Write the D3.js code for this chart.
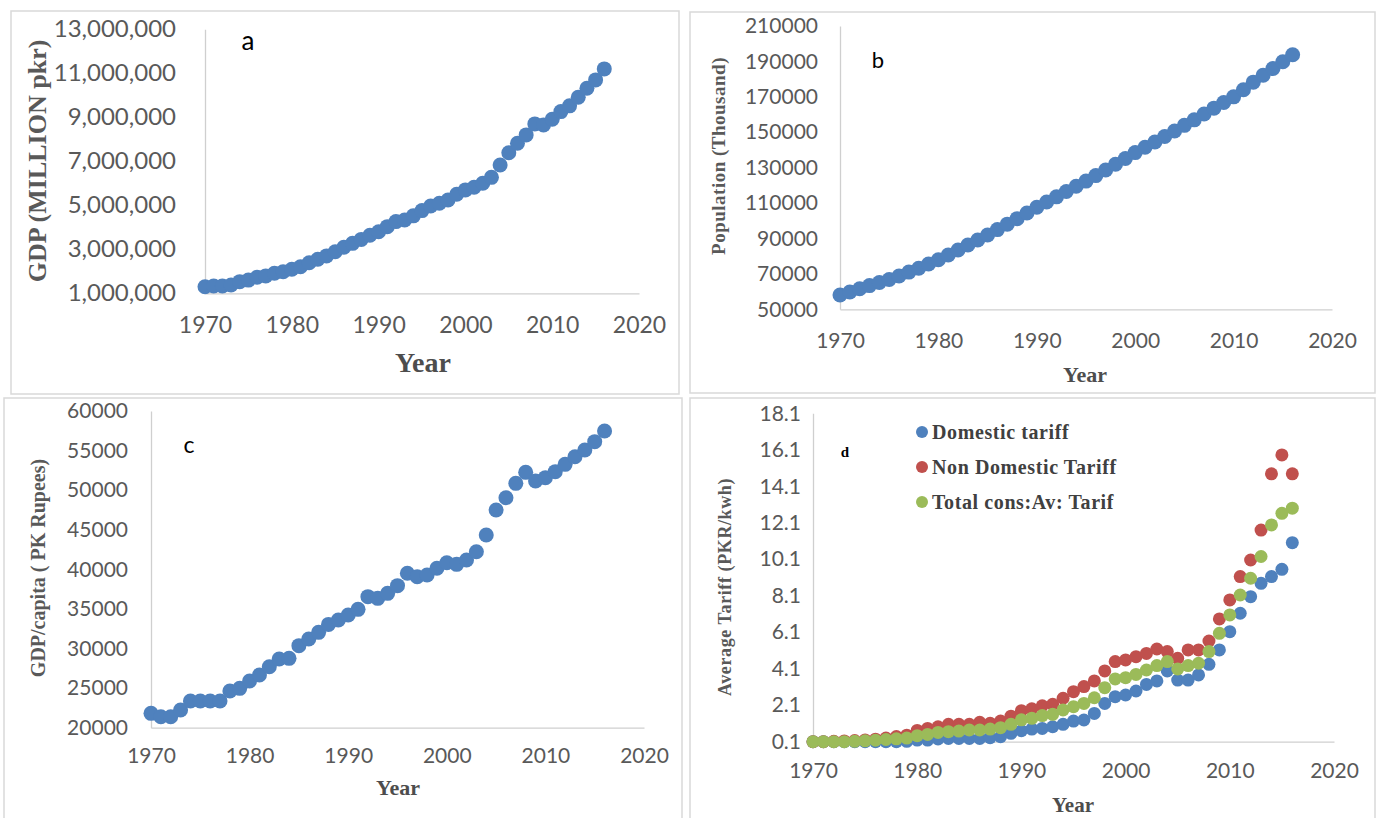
<!DOCTYPE html>
<html>
<head>
<meta charset="utf-8">
<script src="https://cdn.jsdelivr.net/npm/d3@7"></script>
<style>
  body { margin: 0; background: #fff; }
  svg { display: block; }
</style>
</head>
<body>
<div id="chart"></div>
<script>
// data (1970-2016)
const years = [1970,1971,1972,1973,1974,1975,1976,1977,1978,1979,1980,1981,1982,1983,1984,1985,1986,1987,1988,1989,1990,1991,1992,1993,1994,1995,1996,1997,1998,1999,2000,2001,2002,2003,2004,2005,2006,2007,2008,2009,2010,2011,2012,2013,2014,2015,2016];

const gdp = [1300000,1330000,1330000,1380000,1530000,1600000,1730000,1790000,1910000,1980000,
  2090000,2210000,2390000,2550000,2700000,2890000,3090000,3270000,3450000,3640000,
  3800000,4030000,4260000,4330000,4520000,4760000,4970000,5090000,5240000,5500000,
  5700000,5820000,6000000,6270000,6830000,7390000,7820000,8200000,8700000,8650000,
  8910000,9260000,9520000,9910000,10320000,10700000,11200000];

const population = [58100,59800,61600,63400,65100,66800,68800,71000,73200,75600,
  78000,80700,83500,86300,89100,92000,95000,98100,101200,104400,
  107600,110600,113500,116500,119500,122400,125500,128700,131900,135200,
  138500,141500,144500,147600,150700,153900,157000,160300,163600,166800,
  170000,174000,178300,182200,186000,189800,193800];

const gdpPerCapita = [21810,21390,21390,22230,23370,23370,23370,23370,24630,24970,
  25900,26650,27700,28670,28760,30360,31200,32040,33050,33600,
  34230,34950,36550,36340,36970,37940,39500,39070,39290,40130,
  40840,40630,41180,42230,44340,47500,49050,50860,52250,51160,
  51580,52340,53260,54230,55070,56130,57470];

const domesticTariff = [0.1,0.1,0.1,0.1,0.1,0.1,0.1,0.1,0.1,0.12,
  0.19,0.19,0.25,0.28,0.28,0.28,0.28,0.32,0.37,0.56,
  0.7,0.79,0.83,0.92,1.05,1.23,1.29,1.65,2.2,2.57,
  2.66,2.88,3.24,3.43,3.98,3.48,3.48,3.76,4.34,5.13,
  6.13,7.14,8.05,8.78,9.15,9.55,11.01];

const nonDomesticTariff = [0.1,0.1,0.12,0.14,0.16,0.2,0.24,0.3,0.38,0.46,
  0.72,0.83,0.92,1.05,1.05,1.05,1.16,1.11,1.23,1.5,
  1.8,1.9,2.07,2.15,2.48,2.84,3.12,3.43,3.98,4.49,
  4.58,4.76,4.94,5.18,5.04,4.67,5.13,5.13,5.62,6.83,
  7.87,9.15,10.06,11.7,14.78,15.82,14.78];

const totalTariff = [0.1,0.1,0.1,0.1,0.12,0.15,0.18,0.22,0.26,0.3,
  0.43,0.5,0.61,0.65,0.68,0.74,0.74,0.79,0.87,1.05,
  1.3,1.38,1.53,1.6,1.84,2.02,2.2,2.51,3.06,3.54,
  3.61,3.79,4.03,4.27,4.49,4.09,4.27,4.4,5.04,6.04,
  7.05,8.14,9.06,10.25,11.98,12.62,12.9];

const yearTicks = [1970,1980,1990,2000,2010,2020];
const gdpTicks = [1000000,3000000,5000000,7000000,9000000,11000000,13000000];
const popTicks = [50000,70000,90000,110000,130000,150000,170000,190000,210000];
const pcTicks = [20000,25000,30000,35000,40000,45000,50000,55000,60000];
const tariffTicks = [0.1,2.1,4.1,6.1,8.1,10.1,12.1,14.1,16.1,18.1];

const tariffSeries = [
  {name: 'Domestic tariff', values: domesticTariff, color: '#4f81bd'},
  {name: 'Non Domestic Tariff', values: nonDomesticTariff, color: '#c0504d'},
  {name: 'Total cons:Av: Tarif', values: totalTariff, color: '#9bbb59'}
];

const svg = d3.select('#chart').append('svg').attr('width', 1378).attr('height', 818);
svg.append('rect').attr('width', 1378).attr('height', 818).attr('fill', '#fff');

// light frames around the four panels
[[11, 11, 668, 383], [690, 12, 685, 381], [4, 398, 678, 430], [690, 398, 685, 430]].forEach(f => {
  svg.append('rect').attr('x', f[0]).attr('y', f[1]).attr('width', f[2]).attr('height', f[3])
    .attr('fill', 'none').attr('stroke', '#d9d9d9').attr('stroke-width', 1.5);
});

const sans = 'Lato, "Open Sans", sans-serif';
const serif = '"Liberation Serif", "DejaVu Serif", serif';

function panel(o) {
  const x = d3.scaleLinear().domain([1970, 2020]).range([o.left, o.right]);
  const y = d3.scaleLinear().domain(d3.extent(o.ticks)).range([o.bottom, o.top]);
  const g = svg.append('g');

  const xa = g.append('g').attr('transform', `translate(0,${o.bottom})`)
    .call(d3.axisBottom(x).tickValues(yearTicks).tickFormat(d3.format('d'))
      .tickSize(0).tickSizeOuter(0).tickPadding(o.xOff - 0.71 * o.xFont));
  const ya = g.append('g').attr('transform', `translate(${o.left},0)`)
    .call(d3.axisLeft(y).tickValues(o.ticks).tickFormat(o.fmt)
      .tickSize(0).tickSizeOuter(0).tickPadding(o.yPad));
  [xa, ya].forEach(a => {
    a.select('.domain').attr('stroke', '#cfcfcf').attr('stroke-width', 1.3);
    a.selectAll('text').attr('fill', '#595959').style('font-family', sans);
  });
  xa.selectAll('text').style('font-size', o.xFont + 'px');
  ya.selectAll('text').style('font-size', o.yFont + 'px');

  o.series.forEach(s => {
    g.append('g').selectAll('circle').data(s.values).join('circle')
      .attr('cx', (d, i) => x(years[i])).attr('cy', d => y(d))
      .attr('r', o.r).attr('fill', s.color);
  });

  g.append('text').text('Year').attr('x', o.yearPos[0]).attr('y', o.yearPos[1])
    .attr('text-anchor', 'middle').attr('fill', '#4d4d4d')
    .style('font-family', serif).style('font-weight', 'bold').style('font-size', o.yearFont + 'px');

  g.append('text').text(o.yTitle)
    .attr('transform', `translate(${o.yTitlePos[0]},${o.yTitlePos[1]}) rotate(-90)`)
    .attr('text-anchor', 'middle').attr('fill', '#595959')
    .style('font-family', serif).style('font-weight', 'bold')
    .style('font-size', o.yTitleFont + 'px').style('letter-spacing', (o.yTitleLs || 0) + 'px');

  g.append('text').text(o.letter).attr('x', o.letterPos[0]).attr('y', o.letterPos[1])
    .attr('text-anchor', 'middle').attr('fill', '#000')
    .style('font-family', o.letterSerif ? serif : sans)
    .style('font-weight', o.letterSerif ? 'bold' : 'normal')
    .style('font-size', o.letterFont + 'px');
  return {x, y, g};
}

panel({
  left: 205, right: 639, top: 29.3, bottom: 293.3, ticks: gdpTicks, fmt: d3.format(','),
  xFont: 23, yFont: 24, xOff: 40, yPad: 29, r: 7.5,
  series: [{values: gdp, color: '#4f81bd'}],
  yearPos: [423, 372], yearFont: 28,
  yTitle: 'GDP (MILLION pkr)', yTitlePos: [46, 161], yTitleFont: 26,
  letter: 'a', letterPos: [248, 50], letterFont: 26
});

panel({
  left: 840, right: 1332, top: 26, bottom: 309.3, ticks: popTicks, fmt: d3.format('d'),
  xFont: 21, yFont: 21, xOff: 39, yPad: 22, r: 7.5,
  series: [{values: population, color: '#4f81bd'}],
  yearPos: [1085, 382], yearFont: 22,
  yTitle: 'Population (Thousand)', yTitlePos: [725, 156], yTitleFont: 19, yTitleLs: 0.5,
  letter: 'b', letterPos: [878, 68], letterFont: 22
});

panel({
  left: 151, right: 644, top: 411, bottom: 727.7, ticks: pcTicks, fmt: d3.format('d'),
  xFont: 21, yFont: 21, xOff: 35, yPad: 23, r: 7.5,
  series: [{values: gdpPerCapita, color: '#4f81bd'}],
  yearPos: [398, 795], yearFont: 22,
  yTitle: 'GDP/capita ( PK Rupees)', yTitlePos: [45, 568], yTitleFont: 20,
  letter: 'c', letterPos: [189, 453], letterFont: 23
});

panel({
  left: 813, right: 1334, top: 413.3, bottom: 741.7, ticks: tariffTicks, fmt: d3.format('.1f'),
  xFont: 21, yFont: 21, xOff: 36, yPad: 12, r: 6.5,
  series: tariffSeries,
  yearPos: [1073, 812], yearFont: 21,
  yTitle: 'Average Tariff (PKR/kwh)', yTitlePos: [731, 587], yTitleFont: 18, yTitleLs: 0.6,
  letter: 'd', letterPos: [845, 457], letterFont: 15, letterSerif: true
});

// legend of panel d
const legend = svg.append('g');
tariffSeries.forEach((s, i) => {
  legend.append('circle').attr('cx', 922).attr('cy', 432 + i * 35).attr('r', 6).attr('fill', s.color);
  legend.append('text').text(s.name).attr('x', 932).attr('y', 439 + i * 35)
    .attr('fill', '#404040').style('font-family', serif).style('font-weight', 'bold')
    .style('font-size', '20px').style('letter-spacing', '0.6px');
});
</script>
</body>
</html>
